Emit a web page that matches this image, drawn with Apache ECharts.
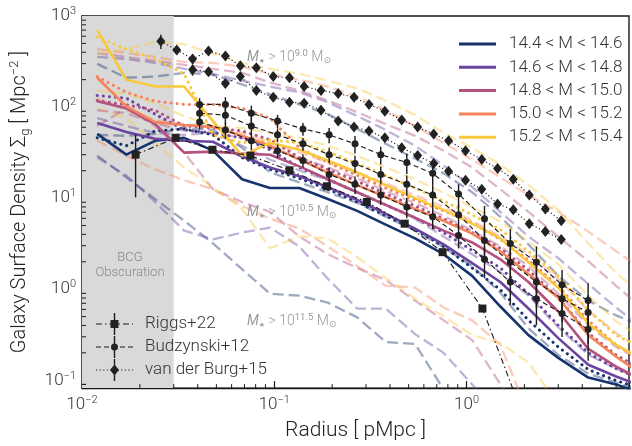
<!DOCTYPE html>
<html>
<head>
<meta charset="utf-8">
<script src="https://cdn.jsdelivr.net/npm/echarts@6/dist/echarts.min.js"></script>
<style>
  html, body { margin: 0; padding: 0; background: #fff; }
  #chart { width: 632px; height: 446px; }
</style>
</head>
<body>
<div id="chart"></div>
<script>
// ---- radial grid shared by the simulated profiles (pMpc) ----
const R = [0.012, 0.017, 0.024, 0.034, 0.048, 0.068, 0.095, 0.135, 0.19, 0.27,
           0.38, 0.54, 0.76, 1.07, 1.5, 2.1, 3.0, 4.3, 6.0, 8.5];

// halo mass bins
const massBins = ['14.4 < M < 14.6', '14.6 < M < 14.8', '14.8 < M < 15.0',
                  '15.0 < M < 15.2', '15.2 < M < 15.4'];
const binColors = ['#17336e', '#6a44a0', '#b3517f', '#f5845c', '#f8c93f'];

// M* > 10^10.5, fiducial (solid)
const solid1 = [50.7, 30.0, 42.6, 45.9, 33.2, 16.1, 12.9, 12.9, 9.78, 7.25, 5.11, 3.61, 2.42, 1.40, 0.645, 0.313, 0.176, 0.107, 0.090, 0.070];
const solid2 = [66.8, 53.3, 44.8, 42.6, 41.6, 28.6, 21.7, 17.4, 13.2, 9.54, 6.73, 4.63, 3.10, 1.93, 1.20, 0.613, 0.290, 0.148, 0.110, 0.083];
const solid3 = [116, 97.1, 65.1, 31.6, 32.4, 30.8, 30.0, 22.3, 16.1, 11.6, 8.42, 6.09, 4.40, 3.26, 2.13, 1.20, 0.569, 0.221, 0.141, 0.097];
const solid4 = [210, 102, 68.4, 63.5, 60.4, 48.3, 37.6, 26.5, 19.2, 13.9, 10.3, 7.62, 5.65, 4.08, 2.61, 1.47, 0.807, 0.313, 0.181, 0.110];
const solid5 = [697, 200, 168, 168, 70.2, 29.3, 40.5, 34.0, 25.9, 19.2, 13.9, 10.0, 7.43, 5.24, 3.61, 1.98, 1.04, 0.42, 0.244, 0.164];

// M* > 10^10.5, alternative selection (dotted)
const dotted1 = [45.9, 37.6, 54.7, 57.5, 49.5, 27.9, 20.7, 16.5, 12.5, 9.07, 6.40, 4.51, 2.95, 1.71, 0.985, 0.455, 0.232, 0.131, 0.099, 0.079];
const dotted2 = [134, 125, 83.6, 56.1, 52.0, 45.9, 34.0, 21.7, 16.1, 11.6, 8.42, 6.09, 4.19, 2.67, 1.71, 0.892, 0.401, 0.200, 0.134, 0.099];
const dotted3 = [118, 106, 92.3, 61.9, 58.9, 54.7, 43.7, 27.9, 20.7, 15.3, 11.1, 8.21, 5.94, 4.19, 2.81, 1.62, 0.807, 0.329, 0.190, 0.124];
const dotted4 = [216, 145, 116, 107, 107, 97.1, 75.6, 35.8, 24.6, 17.8, 12.9, 9.54, 7.25, 5.37, 3.52, 2.08, 1.09, 0.455, 0.244, 0.156];
const dotted5 = [585, 434, 338, 232, 49.5, 40.5, 43.7, 40.5, 32.4, 24.0, 17.8, 12.9, 9.30, 6.56, 4.51, 2.61, 1.40, 0.583, 0.313, 0.215];

// M* > 10^9.0 (faint dashed)
const low1 = [298, 210, 216, 238, 227, 177, 138, 107, 83.6, 57.5, 39.5, 27.2, 18.7, 11.6, 6.24, 3.10, 1.40, 0.75, 0.515, 0.382];
const low2 = [355, 338, 306, 263, 232, 195, 168, 145, 113, 79.5, 56.1, 37.6, 22.8, 13.2, 7.07, 3.79, 2.19, 1.14, 0.63, 0.354];
const low3 = [392, 355, 321, 291, 263, 238, 186, 152, 118, 87.8, 65.1, 48.3, 33.2, 21.7, 12.5, 7.07, 3.79, 2.03, 1.09, 0.58];
const low4 = [434, 392, 355, 313, 306, 277, 232, 200, 168, 131, 92.3, 61.9, 40.5, 26.5, 16.9, 10.8, 7.07, 4.29, 2.61, 1.58];
const low5 = [383, 434, 516, 491, 383, 306, 263, 232, 195, 160, 118, 81.5, 52.0, 35.8, 23.4, 13.9, 7.43, 3.18, 1.51, 0.81];

// M* > 10^10.5 (faint dashed)
const mid1 = [49.5, 48.3, 50.7, 58.9, 56.1, 35.8, 19.2, 14.9, 11.6, 8.85, 6.24, 4.40, 2.88, 1.79, 0.914, 0.372, 0.190, 0.118, 0.094, 0.075];
const mid2 = [75.6, 61.9, 52.0, 49.5, 52.0, 37.6, 26.5, 20.2, 15.7, 11.6, 8.42, 5.94, 3.79, 2.42, 1.54, 0.848, 0.382, 0.190, 0.134, 0.099];
const mid3 = [92.3, 85.7, 66.8, 54.7, 52.0, 45.9, 35.8, 27.9, 21.7, 16.5, 11.9, 8.85, 6.40, 4.40, 2.95, 1.79, 0.892, 0.401, 0.232, 0.156];
const mid4 = [125, 92.3, 71.9, 65.1, 61.9, 52.0, 40.5, 31.6, 24.6, 19.2, 14.6, 10.8, 8.01, 5.65, 3.79, 2.42, 1.30, 0.583, 0.329, 0.210];
const mid5 = [152, 141, 110, 79.5, 61.9, 58.9, 52.0, 45.9, 37.6, 29.3, 21.7, 16.1, 11.4, 8.01, 5.51, 3.35, 1.88, 0.848, 0.443, 0.276];

// M* > 10^11.5 (faint dashed)
const high1 = [29.3, 16.9, 9.78, 5.65, 3.18, 1.66, 0.892, 0.848, 0.712, 0.490, 0.263, 0.250, 0.0793, 0.0331];
const high2 = [27.9, 17.8, 9.07, 4.40, 3.52, 4.19, 4.74, 2.95, 1.30, 0.613, 0.613, 0.321, 0.200, 0.090, 0.0425];
const high3 = [61.9, 97.1, 61.9, 31.6, 12.5, 9.07, 7.07, 3.79, 2.42, 1.71, 1.26, 0.749, 0.455, 0.276, 0.090, 0.035];
const high4 = [42.6, 29.3, 20.7, 15.7, 12.5, 8.21, 5.94, 4.63, 2.95, 1.79, 1.09, 1.04, 0.629, 0.455, 0.244, 0.0425];
const high5 = [97.1, 75.6, 40.5, 21.7, 13.2, 7.62, 2.81, 3.79, 3.61, 2.24, 1.33, 0.787, 0.502, 0.313, 0.256, 0.156, 0.0545];

// ---- observations ----
const riggsR   = [0.019, 0.0307, 0.0477, 0.0751, 0.120, 0.188, 0.303, 0.477, 0.751, 1.21, 1.91];
const riggsV   = [30.0, 45.9, 34.0, 29.3, 20.2, 13.5, 9.07, 5.24, 2.55, 0.613, 0.048];
const riggsErr = [0.66, 0.05, 0.05, 0.05, 0.05, 0.05, 0.05, 0.05, 0.05, 0.05, 0.05];

const budzR   = [0.0409, 0.0557, 0.0760, 0.104, 0.141, 0.193, 0.263, 0.358, 0.489, 0.667, 0.909, 1.24, 1.69, 2.31, 3.14, 4.29];
const budzA   = [107, 107, 85.7, 70.2, 57.5, 49.5, 39.5, 30.0, 24.6, 18.7, 11.1, 5.94, 3.18, 1.98, 1.12, 0.749];
const budzB   = [85.7, 81.5, 61.9, 49.5, 39.5, 30.0, 24.0, 18.2, 14.2, 10.8, 6.56, 3.43, 1.98, 1.20, 0.787, 0.555];
const budzC   = [68.4, 56.1, 42.6, 33.2, 25.9, 18.2, 14.2, 10.8, 8.01, 6.24, 3.89, 2.13, 1.20, 0.787, 0.542, 0.363];
const budzErr = [0.17, 0.20, 0.21, 0.17, 0.16, 0.19, 0.22, 0.22, 0.25, 0.27, 0.28, 0.38, 0.44, 0.49, 0.45, 0.55];

const vdbR    = [0.0257, 0.0311, 0.0376, 0.0455, 0.0557, 0.0666, 0.0807, 0.0988, 0.120, 0.143, 0.175, 0.215, 0.260,
                 0.311, 0.376, 0.460, 0.557, 0.675, 0.807, 0.988, 1.20, 1.45, 1.75, 2.12, 2.57, 3.11];
const vdbA    = [529, 423, 338, 412, 364, 284, 270, 216, 210, 168, 152, 141, 128, 107, 90.0, 71.9, 60.4, 50.7, 42.6,
                 33.2, 26.5, 21.2, 16.1, 10.8, 7.62, 5.65];
const vdbErrA = [0.18, 0.10, 0.12, 0.09, 0.09, 0.09, 0.08, 0.08, 0.08, 0.08, 0.08, 0.08, 0.08, 0.08, 0.08, 0.08, 0.08,
                 0.08, 0.08, 0.08, 0.08, 0.08, 0.08, 0.09, 0.09, 0.09];
// second van der Burg profile starts at the third radius
const vdbB    = [257, 244, 181, 216, 152, 128, 113, 110, 92.3, 70.2, 60.4, 54.7, 45.9, 35.8, 29.3, 24.0, 19.7, 15.7,
                 12.5, 8.63, 7.43, 5.24, 4.29, 3.52];
const vdbErrB = [0.14, 0.10, 0.10, 0.09, 0.09, 0.08, 0.08, 0.08, 0.08, 0.08, 0.08, 0.08, 0.08, 0.08, 0.08, 0.08, 0.08,
                 0.08, 0.08, 0.08, 0.08, 0.09, 0.09, 0.09];

const FONT = 'Roboto, "DejaVu Sans", sans-serif';
const INK = '#1a1a1a';

function pairs(xs, ys) { return ys.map((v, i) => [xs[i], v]); }

function modelSeries(name, vals, color, kind) {
  const ls = { color: color };
  if (kind === 'solid') { ls.width = 2.6; }
  else if (kind === 'dotted') { ls.width = 3; ls.type = [0.1, 6]; ls.cap = 'round'; }
  else { ls.width = 2.3; ls.type = [11, 5]; ls.opacity = 0.42; }
  return {
    type: 'line', name: name, data: pairs(R, vals), showSymbol: false, symbol: 'none',
    lineStyle: ls, itemStyle: { color: color }, silent: true, animation: false, clip: true,
    z: kind === 'solid' ? 4 : (kind === 'dotted' ? 3 : 2)
  };
}

function obsSeries(name, xs, ys, dash, symbol, size) {
  return {
    type: 'line', name: name, data: pairs(xs, ys), symbol: symbol, symbolSize: size, showSymbol: true,
    lineStyle: { color: INK, width: 1.1, type: dash }, itemStyle: { color: '#222' },
    silent: true, animation: false, clip: true, z: 7
  };
}

function errorSeries(xs, ys, fr) {
  return {
    type: 'custom', coordinateSystem: 'cartesian2d', silent: true, animation: false, clip: true, z: 6,
    data: ys.map((v, i) => [xs[i], v, fr[i]]),
    renderItem: function (params, api) {
      const r = api.value(0), v = api.value(1), f = api.value(2);
      const a = api.coord([r, v * (1 + f)]);
      const b = api.coord([r, Math.max(v * (1 - f), 1e-4)]);
      return { type: 'line', shape: { x1: a[0], y1: a[1], x2: b[0], y2: b[1] },
               style: { stroke: INK, lineWidth: 1.4 } };
    }
  };
}

// minor ticks at 2..9 x 10^k, drawn inward on the bottom and left axes
const xMinor = [], yMinor = [];
for (let k = -2; k <= 0; k++) for (let m = 2; m <= 9; m++) { const v = m * Math.pow(10, k); if (v < 7) xMinor.push(v); }
for (let k = -2; k <= 2; k++) for (let m = 2; m <= 9; m++) { const v = m * Math.pow(10, k); if (v > 0.082 && v < 1000) yMinor.push(v); }
yMinor.push(0.09);

function minorTickSeries(vals, dir) {
  return {
    type: 'custom', coordinateSystem: 'cartesian2d', silent: true, animation: false, z: 9,
    data: vals.map(v => dir === 'x' ? [v, 1] : [0.1, v]),
    renderItem: function (params, api) {
      const cs = params.coordSys;
      const p = api.coord([api.value(0), api.value(1)]);
      const shape = dir === 'x'
        ? { x1: p[0], y1: cs.y + cs.height, x2: p[0], y2: cs.y + cs.height - 4 }
        : { x1: cs.x, y1: p[1], x2: cs.x + 4, y2: p[1] };
      return { type: 'line', shape: shape, style: { stroke: INK, lineWidth: 1 } };
    }
  };
}

function powLabel(v) {
  const e = Math.log10(v), k = Math.round(e);
  if (Math.abs(e - k) > 1e-6) return '';
  return '10{sup|' + (k < 0 ? '\u2212' + (-k) : k) + '}';
}
const supRich = { sup: { fontSize: 11, lineHeight: 8, verticalAlign: 'top', color: '#333', fontFamily: FONT, fontWeight: 300 } };

const solids = [solid1, solid2, solid3, solid4, solid5];
const dotteds = [dotted1, dotted2, dotted3, dotted4, dotted5];
const lows = [low1, low2, low3, low4, low5];
const mids = [mid1, mid2, mid3, mid4, mid5];
const highs = [high1, high2, high3, high4, high5];

const series = [];
// BCG obscuration band
series.push({
  type: 'line', data: [], silent: true, z: 1,
  markArea: { silent: true, itemStyle: { color: '#d9d9d9', opacity: 1 },
              data: [[{ xAxis: 0.01 }, { xAxis: 0.03 }]] }
});
for (let i = 0; i < 5; i++) series.push(modelSeries('low' + i, lows[i], binColors[i], 'faint'));
for (let i = 0; i < 5; i++) series.push(modelSeries('high' + i, highs[i], binColors[i], 'faint'));
for (let i = 0; i < 5; i++) series.push(modelSeries('mid' + i, mids[i], binColors[i], 'faint'));
for (let i = 0; i < 5; i++) series.push(modelSeries('dot' + i, dotteds[i], binColors[i], 'dotted'));
for (let i = 0; i < 5; i++) series.push(modelSeries(massBins[i], solids[i], binColors[i], 'solid'));

series.push(errorSeries(riggsR, riggsV, riggsErr));
series.push(obsSeries('Riggs+22', riggsR, riggsV, [6, 3, 1.5, 3], 'rect', 8));
[budzA, budzB, budzC].forEach(b => {
  series.push(errorSeries(budzR, b, budzErr));
  series.push(obsSeries('Budzynski+12', budzR, b, [5, 3], 'circle', 7));
});
series.push(errorSeries(vdbR, vdbA, vdbErrA));
series.push(obsSeries('van der Burg+15', vdbR, vdbA, [1.2, 2.4], 'diamond', [9, 11]));
series.push(errorSeries(vdbR.slice(2), vdbB, vdbErrB));
series.push(obsSeries('van der Burg+15', vdbR.slice(2), vdbB, [1.2, 2.4], 'diamond', [9, 11]));

series.push(minorTickSeries(xMinor, 'x'));
series.push(minorTickSeries(yMinor, 'y'));

// bottom-left legend for the observational sets
const obsLegend = [
  { label: 'Riggs+22', y: 324, dash: [6, 3, 1.5, 3], sym: 'rect' },
  { label: 'Budzynski+12', y: 347, dash: [5, 3], sym: 'circle' },
  { label: 'van der Burg+15', y: 370, dash: [1.2, 2.4], sym: 'diamond' }
];
const graphics = [];
obsLegend.forEach(row => {
  const cx = 114.5, y = row.y;
  graphics.push({ type: 'line', silent: true, z: 50, shape: { x1: 96, y1: y, x2: 133, y2: y },
                  style: { stroke: INK, lineWidth: 1.1, lineDash: row.dash } });
  graphics.push({ type: 'line', silent: true, z: 50, shape: { x1: cx, y1: y - 11, x2: cx, y2: y + 11 },
                  style: { stroke: INK, lineWidth: 1.4 } });
  if (row.sym === 'rect') graphics.push({ type: 'rect', silent: true, z: 51, shape: { x: cx - 4, y: y - 4, width: 8, height: 8 }, style: { fill: '#222' } });
  else if (row.sym === 'circle') graphics.push({ type: 'circle', silent: true, z: 51, shape: { cx: cx, cy: y, r: 3.5 }, style: { fill: '#222' } });
  else graphics.push({ type: 'polygon', silent: true, z: 51, shape: { points: [[cx, y - 5.5], [cx + 4.5, y], [cx, y + 5.5], [cx - 4.5, y]] }, style: { fill: '#222' } });
  graphics.push({ type: 'text', silent: true, z: 51, x: 145, y: y,
                  style: { text: row.label, fill: '#333', fontSize: 17, fontFamily: FONT, fontWeight: 300, verticalAlign: 'middle' } });
});

// stellar-mass threshold annotations
const annRich = {
  i: { fontStyle: 'italic', fontSize: 14, fill: '#999', fontFamily: FONT },
  s: { fontSize: 7, lineHeight: 6, verticalAlign: 'bottom', fill: '#999', fontFamily: '"DejaVu Sans", sans-serif' },
  o: { fontSize: 9, lineHeight: 6, verticalAlign: 'bottom', fill: '#999', fontFamily: '"DejaVu Sans", sans-serif' },
  p: { fontSize: 9.5, lineHeight: 6, verticalAlign: 'top', fill: '#999', fontFamily: FONT }
};
[['9.0', 57], ['10.5', 212], ['11.5', 321]].forEach(([e, y]) => {
  graphics.push({ type: 'text', silent: true, z: 40, x: 247, y: y,
    style: { text: '{i|M}{s|\u2605} > 10{p|' + e + '} M{o|\u2299}', fill: '#999', fontSize: 14, lineHeight: 16,
             fontFamily: FONT, fontWeight: 300, verticalAlign: 'middle', rich: annRich } });
});
graphics.push({ type: 'text', silent: true, z: 40, x: 130, y: 265,
  style: { text: 'BCG\nObscuration', fill: '#888', fontSize: 13, lineHeight: 15, fontFamily: FONT,
           fontWeight: 300, align: 'center', verticalAlign: 'middle' } });

const chart = echarts.init(document.getElementById('chart'), null, { renderer: 'canvas' });
chart.setOption({
  animation: false,
  backgroundColor: '#fff',
  grid: { left: 82, top: 16, width: 549, height: 378, show: true, borderColor: INK, borderWidth: 1.4, backgroundColor: 'transparent' },
  legend: {
    data: massBins, orient: 'vertical', left: 454, top: 29, icon: 'rect', itemWidth: 37, itemHeight: 3,
    itemGap: 3.3, selectedMode: false,
    textStyle: { fontSize: 17, fontFamily: FONT, fontWeight: 300, color: '#333', lineHeight: 20, padding: [0, 0, 0, 8] }
  },
  xAxis: {
    type: 'log', logBase: 10, min: 0.01, max: 7,
    axisLine: { show: true, lineStyle: { color: INK, width: 1.4 } },
    axisTick: { show: true, inside: true, length: 7, lineStyle: { color: INK, width: 1.2 } },
    axisLabel: { formatter: powLabel, margin: 7, fontSize: 17, lineHeight: 20, color: '#333', fontFamily: FONT, fontWeight: 300, rich: supRich },
    splitLine: { show: false },
    name: 'Radius [ pMpc ]', nameLocation: 'middle', nameGap: 24,
    nameTextStyle: { fontSize: 21, color: '#222', fontFamily: FONT, fontWeight: 300 }
  },
  yAxis: {
    type: 'log', logBase: 10, min: 0.082, max: 1000,
    axisLine: { show: true, lineStyle: { color: INK, width: 1.4 } },
    axisTick: { show: true, inside: true, length: 7, lineStyle: { color: INK, width: 1.2 } },
    axisLabel: { formatter: powLabel, margin: 6, fontSize: 17, lineHeight: 20, color: '#333', fontFamily: FONT, fontWeight: 300, rich: supRich },
    splitLine: { show: false },
    name: 'Galaxy Surface Density \u03a3{sb|g} [ Mpc{sp|\u22122} ]', nameLocation: 'middle', nameGap: 50, nameRotate: 90,
    nameTextStyle: { fontSize: 20, lineHeight: 24, color: '#222', fontFamily: FONT, fontWeight: 300,
      rich: { sb: { fontSize: 13, lineHeight: 8, verticalAlign: 'bottom', color: '#222', fontFamily: FONT, fontWeight: 300 },
              sp: { fontSize: 13, lineHeight: 8, verticalAlign: 'top', color: '#222', fontFamily: FONT, fontWeight: 300 } } }
  },
  series: series,
  graphic: graphics
});
</script>
</body>
</html>
